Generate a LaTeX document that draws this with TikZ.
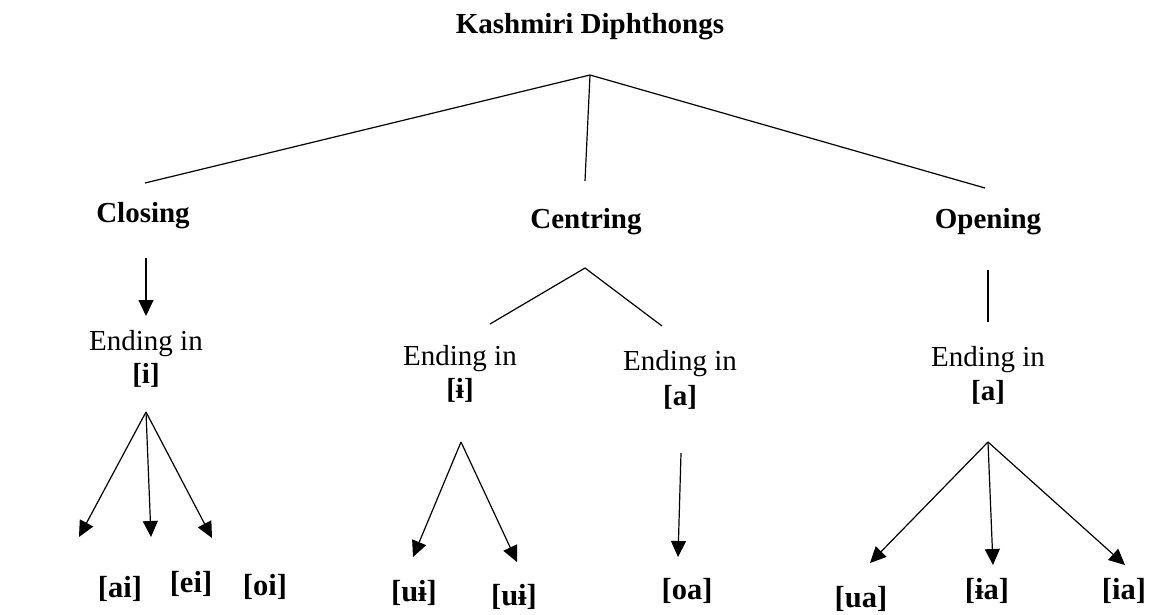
\documentclass[tikz,border=0pt]{standalone}
\usepackage{fontspec}
\setmainfont{Liberation Serif}
\usetikzlibrary{arrows.meta}
\begin{document}
\begin{tikzpicture}[x=1pt,y=-1pt, line width=1.2pt,
  lbl/.style={font=\fontsize{29}{34}\selectfont, inner sep=0pt, anchor=base},
  blbl/.style={lbl, font=\fontsize{29}{34}\selectfont\bfseries},
  vlbl/.style={lbl, font=\fontsize{30.5}{34}\selectfont\bfseries},
  arr/.style={-{Triangle[length=16pt,width=15pt]}}]
\useasboundingbox (0,0) rectangle (1153,614);
% top level
\node[blbl] (title) at (590,33) {Kashmiri Diphthongs};
\coordinate (root) at (590,75);
\coordinate (clT) at (145,183);
\coordinate (ceT) at (585,181);
\coordinate (opT) at (985,188);
\draw (root) -- (clT);
\draw (root) -- (ceT);
\draw (root) -- (opT);
\node[blbl] (closing) at (143,222) {Closing};
\node[blbl] (centring) at (586,228) {Centring};
\node[blbl] (opening) at (988,228) {Opening};
% closing branch
\coordinate (clA) at (146,258);
\coordinate (clB) at (146,316);
\draw[arr] (clA) -- (clB);
\node[lbl] (clE) at (146,350) {Ending in};
\node[blbl] (clI) at (146,383) {[i]};
\coordinate (clF) at (146,412);
\coordinate (aiT) at (79,537);
\coordinate (eiT) at (151,537);
\coordinate (oiT) at (212,538);
\draw[arr] (clF) -- (aiT);
\draw[arr] (clF) -- (eiT);
\draw[arr] (clF) -- (oiT);
\node[vlbl] (ai) at (120,597) {[ai]};
\node[vlbl] (ei) at (191,592) {[ei]};
\node[vlbl] (oi) at (265,595) {[oi]};
% centring branch
\coordinate (ceF) at (585,268);
\coordinate (ceL) at (490,324);
\coordinate (ceR) at (662,326);
\draw (ceF) -- (ceL);
\draw (ceF) -- (ceR);
\node[lbl] (ceE1) at (460,365) {Ending in};
\node[blbl] (ceI) at (460,398) {[ɨ]};
\node[lbl] (ceE2) at (680,370) {Ending in};
\node[blbl] (ceA) at (680,405) {[a]};
\coordinate (ceF1) at (461,442);
\coordinate (ui1T) at (413,557);
\coordinate (ui2T) at (517,562);
\draw[arr] (ceF1) -- (ui1T);
\draw[arr] (ceF1) -- (ui2T);
\node[vlbl] (ui1) at (414,601) {[uɨ]};
\node[vlbl] (ui2) at (514,605) {[uɨ]};
\coordinate (ceF2) at (681,453);
\coordinate (oaT) at (678,557);
\draw[arr] (ceF2) -- (oaT);
\node[vlbl] (oa) at (687,599) {[oa]};
% opening branch
\coordinate (opA) at (988,270);
\coordinate (opB) at (988,322);
\draw (opA) -- (opB);
\node[lbl] (opE) at (988,366) {Ending in};
\node[blbl] (opI) at (988,400) {[a]};
\coordinate (opF) at (988,442);
\coordinate (uaT) at (870,563);
\coordinate (iaT1) at (993,565);
\coordinate (iaT2) at (1125,565);
\draw[arr] (opF) -- (uaT);
\draw[arr] (opF) -- (iaT1);
\draw[arr] (opF) -- (iaT2);
\node[vlbl] (ua) at (861,607) {[ua]};
\node[vlbl] (ia1) at (987,599) {[ɨa]};
\node[vlbl] (ia2) at (1124,599) {[ia]};
\end{tikzpicture}
\end{document}
